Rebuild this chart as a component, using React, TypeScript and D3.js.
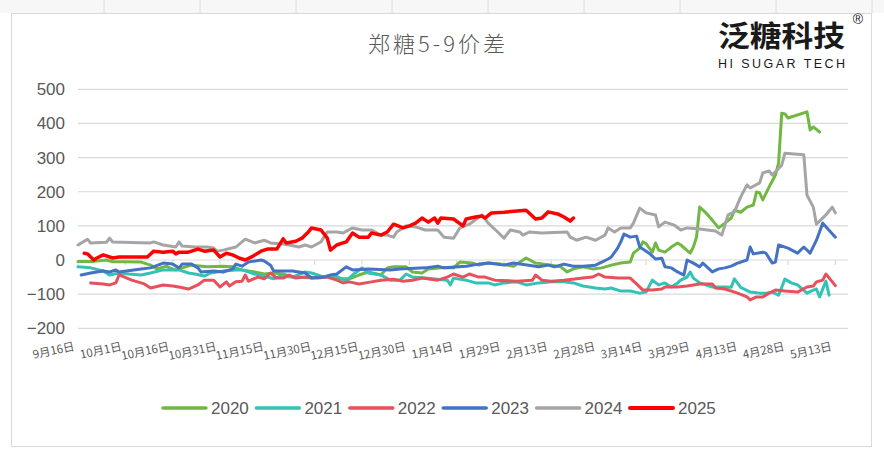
import React, { useEffect } from 'react';
import * as d3 from 'd3';

// 郑糖5-9价差, values
const years = ['2020', '2021', '2022', '2023', '2024', '2025'];
const colors = ['#70b843', '#33c2b5', '#e8505b', '#4472c4', '#a5a5a5', '#ff0000'];

const xTickDays = ['09-16', '10-01', '10-16', '10-31', '11-15', '11-30', '12-15', '12-30', '01-14',
  '01-29', '02-13', '02-28', '03-14', '03-29', '04-13', '04-28', '05-13'];
const yTicks = [-200, -100, 0, 100, 200, 300, 400, 500];

type Pt = [string, number];

const s2020: Pt[] = [["09-16",-4],["09-21",-4],["09-25",0],["09-27",-5],["09-30",-5],["10-06",-6],["10-09",-15],["10-11",-26],["10-14",-18],["10-15",-23],["10-17",-29],["10-19",-23],["10-22",-15],["10-27",-20],["11-01",-18],["11-04",-20],["11-07",-29],["11-11",-35],["11-14",-41],["11-17",-38],["11-20",-41],["11-23",-50],["11-25",-50],["11-29",-53],["12-02",-50],["12-05",-46],["12-08",-55],["12-11",-55],["12-14",-44],["12-17",-35],["12-21",-44],["12-23",-23],["12-25",-20],["12-29",-20],["12-31",-35],["01-03",-38],["01-05",-26],["01-09",-23],["01-13",-23],["01-15",-6],["01-19",-9],["01-21",-15],["01-24",-9],["01-28",-12],["02-01",-18],["02-05",6],["02-08",-9],["02-13",-15],["02-16",-20],["02-18",-35],["02-20",-26],["02-23",-20],["02-26",-26],["02-29",-23],["03-03",-15],["03-06",-9],["03-09",-6],["03-10",20],["03-12",35],["03-13",53],["03-14",48],["03-16",23],["03-17",50],["03-18",29],["03-20",23],["03-22",38],["03-24",50],["03-25",44],["03-28",20],["03-29",38],["03-30",67],["03-31",155],["04-02",138],["04-04",117],["04-06",94],["04-08",108],["04-10",123],["04-11",146],["04-13",140],["04-15",155],["04-17",161],["04-18",199],["04-19",197],["04-20",176],["04-22",214],["04-24",249],["04-25",284],["04-26",430],["04-27",428],["04-28",416],["05-04",434],["05-05",381],["05-06",390],["05-08",375]];

const s2021: Pt[] = [["09-16",-20],["09-20",-23],["09-24",-32],["09-26",-44],["09-29",-38],["10-02",-41],["10-06",-44],["10-09",-38],["10-13",-29],["10-18",-29],["10-21",-38],["10-23",-41],["10-26",-47],["10-28",-38],["11-01",-32],["11-05",-29],["11-07",-29],["11-11",-41],["11-14",-47],["11-17",-55],["11-19",-47],["11-23",-50],["11-27",-35],["11-29",-38],["12-03",-50],["12-06",-44],["12-10",-61],["12-12",-44],["12-15",-23],["12-17",-38],["12-21",-44],["12-24",-59],["12-27",-59],["12-29",-41],["12-31",-50],["01-04",-53],["01-11",-59],["01-12",-73],["01-13",-53],["01-17",-59],["01-20",-67],["01-24",-67],["01-26",-73],["01-29",-67],["02-02",-64],["02-05",-73],["02-09",-67],["02-13",-64],["02-17",-64],["02-20",-67],["02-23",-76],["02-27",-82],["03-01",-85],["03-03",-82],["03-06",-91],["03-09",-91],["03-12",-97],["03-14",-94],["03-16",-59],["03-18",-73],["03-20",-67],["03-22",-79],["03-24",-67],["03-25",-59],["03-27",-50],["03-28",-35],["03-29",-53],["03-31",-67],["04-04",-79],["04-08",-79],["04-10",-80],["04-11",-55],["04-13",-80],["04-16",-94],["04-19",-97],["04-21",-97],["04-23",-94],["04-25",-103],["04-27",-56],["04-29",-67],["05-01",-73],["05-04",-97],["05-06",-88],["05-07",-85],["05-08",-108],["05-10",-62],["05-11",-103]];

const s2022: Pt[] = [["09-20",-67],["09-24",-70],["09-26",-73],["09-28",-67],["09-29",-44],["09-30",-47],["10-03",-59],["10-07",-70],["10-09",-82],["10-13",-73],["10-16",-76],["10-18",-79],["10-21",-85],["10-24",-73],["10-26",-59],["10-29",-59],["10-31",-79],["11-02",-64],["11-03",-76],["11-05",-64],["11-07",-62],["11-08",-44],["11-09",-62],["11-12",-50],["11-14",-55],["11-16",-38],["11-18",-53],["11-20",-53],["11-22",-44],["11-24",-53],["11-27",-50],["12-01",-53],["12-04",-50],["12-07",-59],["12-09",-67],["12-11",-64],["12-14",-70],["12-18",-64],["12-21",-59],["12-25",-56],["12-28",-62],["12-31",-59],["01-03",-53],["01-08",-59],["01-11",-50],["01-13",-41],["01-16",-50],["01-18",-41],["01-21",-50],["01-23",-50],["01-26",-59],["02-02",-62],["02-07",-59],["02-08",-44],["02-10",-59],["02-13",-62],["02-17",-59],["02-23",-53],["02-26",-50],["02-28",-41],["03-01",-50],["03-05",-53],["03-09",-53],["03-11",-70],["03-13",-88],["03-16",-88],["03-19",-85],["03-20",-79],["03-24",-79],["03-27",-76],["03-29",-73],["03-31",-70],["04-04",-70],["04-05",-82],["04-08",-85],["04-12",-97],["04-15",-108],["04-16",-117],["04-18",-108],["04-20",-108],["04-22",-97],["04-24",-88],["04-27",-91],["05-01",-94],["05-04",-79],["05-06",-76],["05-07",-64],["05-09",-59],["05-10",-41],["05-13",-75]];

const s2023: Pt[] = [["09-17",-44],["09-20",-38],["09-24",-32],["09-26",-35],["09-28",-29],["09-29",-35],["10-06",-26],["10-09",-23],["10-13",-9],["10-16",-12],["10-18",-23],["10-19",-12],["10-22",-12],["10-24",-23],["10-25",-35],["10-29",-32],["11-01",-35],["11-04",-26],["11-05",-12],["11-07",-18],["11-09",-6],["11-13",0],["11-14",-3],["11-16",-15],["11-17",-32],["11-23",-32],["11-27",-38],["11-29",-53],["12-03",-50],["12-05",-44],["12-07",-41],["12-10",-20],["12-12",-29],["12-17",-26],["12-24",-29],["12-27",-26],["01-04",-23],["01-08",-18],["01-10",-23],["01-17",-18],["01-21",-12],["01-24",-9],["01-29",-15],["02-01",-9],["02-09",-20],["02-12",-15],["02-14",-20],["02-17",-12],["02-20",-18],["02-23",-18],["02-27",-15],["02-29",-6],["03-02",3],["03-03",9],["03-05",35],["03-06",53],["03-07",76],["03-09",67],["03-11",70],["03-12",38],["03-15",20],["03-17",3],["03-19",5],["03-20",-20],["03-22",-23],["03-24",-35],["03-26",-44],["03-27",0],["03-29",-9],["03-31",-20],["04-01",-9],["04-04",-35],["04-06",-26],["04-08",-23],["04-10",-18],["04-12",-9],["04-15",0],["04-16",38],["04-17",18],["04-20",23],["04-21",20],["04-23",-9],["04-24",-6],["04-25",44],["04-28",35],["05-01",20],["05-03",38],["05-05",20],["05-07",58],["05-09",108],["05-13",67]];

const s2024: Pt[] = [["09-16",44],["09-19",61],["09-20",50],["09-25",52],["09-26",64],["09-27",53],["10-09",50],["10-10",53],["10-13",44],["10-17",38],["10-18",53],["10-19",41],["10-23",38],["10-27",38],["10-29",35],["10-30",26],["11-01",29],["11-05",38],["11-08",61],["11-11",50],["11-14",58],["11-16",50],["11-20",47],["11-22",44],["11-25",38],["11-27",44],["11-29",38],["12-02",53],["12-04",82],["12-07",82],["12-09",79],["12-12",94],["12-15",88],["12-18",88],["12-21",73],["12-23",73],["12-25",67],["12-26",82],["12-29",100],["01-01",97],["01-04",88],["01-08",88],["01-10",67],["01-13",64],["01-15",94],["01-18",105],["01-22",132],["01-24",108],["01-27",82],["01-29",64],["01-31",88],["02-03",82],["02-04",73],["02-06",82],["02-10",79],["02-18",82],["02-19",67],["02-21",58],["02-24",67],["02-27",58],["03-01",73],["03-02",94],["03-04",82],["03-06",94],["03-09",94],["03-10",108],["03-12",152],["03-14",138],["03-17",132],["03-18",97],["03-20",111],["03-23",102],["03-25",88],["03-27",94],["03-31",91],["04-05",85],["04-07",73],["04-09",132],["04-11",141],["04-13",185],["04-15",220],["04-16",211],["04-19",226],["04-20",255],["04-22",261],["04-23",249],["04-26",278],["04-27",313],["05-03",308],["05-04",190],["05-06",155],["05-07",105],["05-10",132],["05-12",155],["05-13",138]];

const s2025: Pt[] = [["09-18",20],["09-19",18],["09-21",0],["09-22",6],["09-24",15],["09-27",6],["09-29",9],["10-08",9],["10-10",26],["10-13",23],["10-16",26],["10-17",18],["10-18",23],["10-21",23],["10-24",32],["10-26",26],["10-29",29],["10-31",9],["11-02",20],["11-04",15],["11-06",6],["11-08",0],["11-10",9],["11-13",26],["11-15",32],["11-18",32],["11-20",62],["11-21",50],["11-24",55],["11-26",64],["11-27",73],["11-28",82],["11-29",94],["12-02",88],["12-04",64],["12-05",29],["12-07",44],["12-09",50],["12-10",53],["12-12",79],["12-14",67],["12-17",67],["12-18",79],["12-21",73],["12-23",82],["12-25",105],["12-28",94],["12-30",100],["01-01",108],["01-03",123],["01-05",111],["01-07",123],["01-08",108],["01-09",123],["01-13",120],["01-16",100],["01-17",120],["01-20",126],["01-22",129],["01-23",123],["01-25",138],["01-29",140],["02-05",146],["02-08",120],["02-10",123],["02-12",141],["02-15",135],["02-17",126],["02-19",114],["02-20",123]];

const series = [s2020, s2021, s2022, s2023, s2024, s2025];

const W = 884;
const H = 452;

const parseDay = (s: string) => {
  const [m, d] = s.split('-').map(Number);
  return new Date(m >= 9 ? 2023 : 2024, m - 1, d);
};

const App: React.FC = () => {
  useEffect(() => {
    document.body.style.margin = '0';
  }, []);

  const x = d3.scaleTime()
    .domain([new Date(2023, 8, 16), new Date(2024, 4, 17)])
    .range([78, 848]);
  const y = d3.scaleLinear().domain([-200, 500]).range([328.3, 89.3]);

  const line = d3.line<Pt>()
    .x(d => x(parseDay(d[0])))
    .y(d => y(d[1]));

  const fmt = d3.format('d');
  const label = (s: string) => {
    const [m, d] = s.split('-').map(Number);
    return `${m}月${d}日`;
  };

  const numFont = '"Liberation Sans", Arial, sans-serif';
  const cjkFont = '"Noto Sans CJK SC", "Liberation Sans", sans-serif';

  return (
    <svg width={W} height={H} style={{ position: 'absolute', left: 0, top: 0, background: '#fff' }}>
      {/* sheet cell lines above the chart */}
      <rect x={0} y={0} width={W} height={13} fill="#f7f7f7" />
      {d3.range(104, W, 96).map(cx => (
        <line key={cx} x1={cx} x2={cx} y1={0} y2={13} stroke="#dcdcdc" />
      ))}
      <rect x={11.5} y={13.5} width={860} height={433} fill="#fff" stroke="#d9d9d9" />

      {/* title */}
      <text x={438} y={52} textAnchor="middle" fontFamily={cjkFont} fontSize={22}
        fontWeight={300} fill="#595959" letterSpacing={3}>郑糖5-9价差</text>

      {/* logo */}
      <text x={718} y={47} fontFamily={cjkFont} fontSize={29} fontWeight={700} fill="#1a1a1a"
        textLength={127} lengthAdjust="spacingAndGlyphs">泛糖科技</text>
      <text x={718} y={68} fontFamily={numFont} fontSize={12.5} fill="#1a1a1a"
        textLength={127} lengthAdjust="spacing">HI SUGAR TECH</text>
      <text x={858} y={24} textAnchor="middle" fontFamily={numFont} fontSize={14} fill="#1a1a1a">®</text>

      {/* grid */}
      {yTicks.map(v => (
        <g key={v}>
          <line x1={78} x2={848} y1={y(v)} y2={y(v)} stroke="#d9d9d9" strokeWidth={1.2} />
          <text x={65} y={y(v)} dy="0.35em" textAnchor="end" fontFamily={numFont} fontSize={17}
            fill="#595959">{fmt(v)}</text>
        </g>
      ))}

      {/* date ticks on the zero line */}
      {xTickDays.map(s => (
        <line key={s} x1={x(parseDay(s))} x2={x(parseDay(s))} y1={y(0)} y2={y(0) + 5}
          stroke="#d9d9d9" strokeWidth={1.2} />
      ))}

      {/* date labels */}
      {xTickDays.map(s => (
        <text key={s} transform={`translate(${x(parseDay(s)) - 3},350) rotate(-12)`}
          textAnchor="end" fontFamily={cjkFont} fontSize={11.5} fill="#595959">{label(s)}</text>
      ))}

      {/* series */}
      {series.map((s, i) => (
        <path key={years[i]} d={line(s) || ''} fill="none" stroke={colors[i]}
          strokeWidth={i === 5 ? 3.5 : 3} strokeLinejoin="round" strokeLinecap="round" />
      ))}

      {/* legend */}
      {years.map((yr, i) => {
        const lx = 163 + i * 93.4;
        return (
          <g key={yr}>
            <line x1={lx} x2={lx + 43} y1={408} y2={408} stroke={colors[i]}
              strokeWidth={i === 5 ? 4 : 3.5} strokeLinecap="round" />
            <text x={lx + 48} y={408} dy="0.35em" fontFamily={numFont} fontSize={17}
              fill="#595959">{yr}</text>
          </g>
        );
      })}
    </svg>
  );
};

export default App;
